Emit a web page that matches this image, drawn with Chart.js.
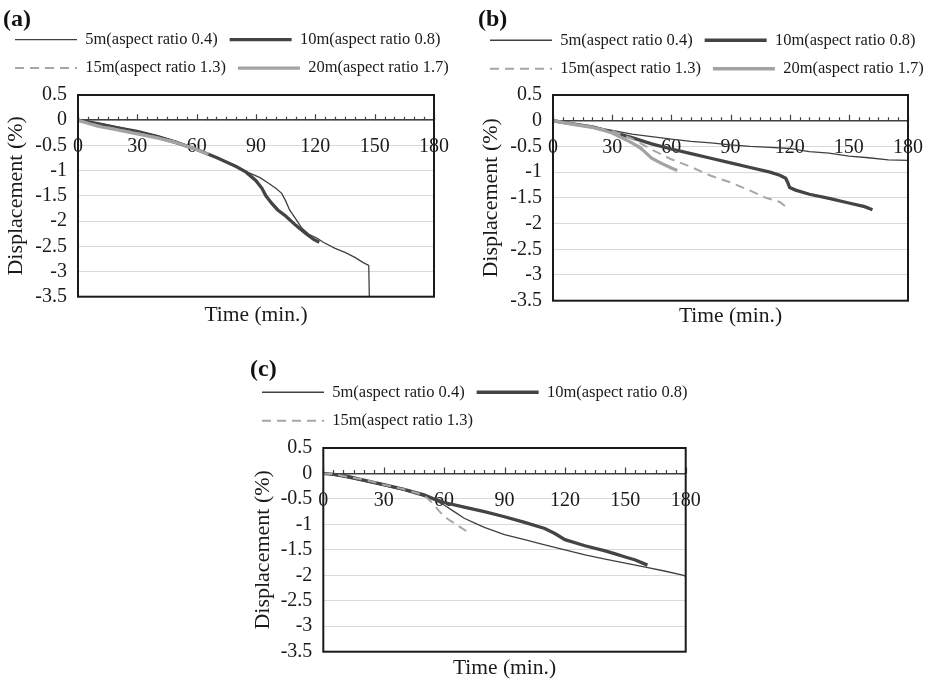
<!DOCTYPE html>
<html>
<head>
<meta charset="utf-8">
<title>Displacement vs time</title>
<script src="https://cdn.jsdelivr.net/npm/chart.js@4.4.1/dist/chart.umd.min.js"></script>
<style>
  body { margin: 0; background: #fff; }
  .wrap { position: relative; width: 938px; height: 682px; }
  canvas { position: absolute; }
</style>
</head>
<body>
<div class="wrap">
  <canvas id="chartA" width="465" height="330" style="left:0;top:0"></canvas>
  <canvas id="chartB" width="468" height="330" style="left:470px;top:0"></canvas>
  <canvas id="chartC" width="500" height="352" style="left:240px;top:330px"></canvas>
</div>
<script>
// series names and axis ticks
const seriesNames = ["5m(aspect ratio 0.4)", "10m(aspect ratio 0.8)", "15m(aspect ratio 1.3)", "20m(aspect ratio 1.7)"]
const xTicks = [0, 30, 60, 90, 120, 150, 180]
const yTicks = [0.5, 0, -0.5, -1, -1.5, -2, -2.5, -3, -3.5]

// (a)  [time (min), displacement (%)]
const a5m = [[0, 0], [10, -0.06], [20, -0.13], [30, -0.2], [40, -0.3], [50, -0.42], [60, -0.57], [70, -0.73], [80, -0.9], [85, -1.02], [88, -1.07], [92, -1.14], [96, -1.24], [100, -1.35], [103, -1.45], [105, -1.6], [107, -1.78], [110, -1.95], [113, -2.13], [117, -2.27], [121, -2.34], [124, -2.42], [130, -2.54], [135, -2.62], [140, -2.72], [144, -2.82], [147, -2.88], [147.3, -3.5]]
const a10m = [[0, 0], [10, -0.07], [20, -0.15], [30, -0.24], [40, -0.33], [50, -0.45], [60, -0.58], [70, -0.74], [80, -0.92], [85, -1.03], [90, -1.2], [93, -1.35], [95, -1.5], [98, -1.65], [101, -1.78], [105, -1.9], [110, -2.08], [115, -2.24], [119, -2.36], [122, -2.42]]
const a15m = [[0, 0], [10, -0.1], [20, -0.18], [30, -0.26], [40, -0.34], [50, -0.44], [58, -0.55]]
const a20m = [[0, 0], [10, -0.12], [20, -0.19], [30, -0.27], [40, -0.35], [50, -0.45], [60, -0.58], [66, -0.68]]

// (b)
const b5m = [[0, 0], [10, -0.06], [20, -0.12], [30, -0.19], [40, -0.26], [50, -0.31], [60, -0.36], [70, -0.4], [80, -0.43], [90, -0.47], [100, -0.5], [110, -0.52], [120, -0.54], [125, -0.57], [130, -0.6], [140, -0.63], [145, -0.66], [150, -0.69], [160, -0.72], [170, -0.76], [180, -0.77]]
const b10m = [[0, 0], [10, -0.06], [20, -0.12], [30, -0.22], [40, -0.33], [50, -0.45], [60, -0.55], [70, -0.64], [80, -0.73], [90, -0.82], [100, -0.91], [110, -1.0], [115, -1.06], [118, -1.12], [119, -1.2], [120, -1.3], [123, -1.35], [130, -1.43], [140, -1.51], [150, -1.6], [158, -1.67], [162, -1.73]]
const b15m = [[0, 0], [10, -0.06], [20, -0.12], [30, -0.2], [40, -0.35], [50, -0.56], [60, -0.75], [70, -0.9], [80, -1.07], [90, -1.2], [100, -1.36], [108, -1.5], [115, -1.58], [120, -1.73]]
const b20m = [[0, 0], [10, -0.07], [20, -0.13], [26, -0.19], [30, -0.24], [36, -0.35], [40, -0.43], [44, -0.52], [47, -0.62], [50, -0.73], [55, -0.83], [60, -0.92], [63, -0.97]]

// (c)
const c5m = [[0, 0], [5, -0.03], [10, -0.07], [20, -0.15], [30, -0.24], [40, -0.33], [50, -0.45], [55, -0.52], [60, -0.62], [65, -0.75], [70, -0.88], [75, -0.97], [80, -1.06], [90, -1.2], [100, -1.3], [110, -1.4], [120, -1.5], [130, -1.6], [140, -1.68], [150, -1.76], [160, -1.84], [170, -1.92], [179, -2.0], [180, -2.03], [180, -2.27]]
const c10m = [[0, 0], [5, -0.02], [10, -0.04], [20, -0.13], [30, -0.22], [40, -0.31], [50, -0.42], [55, -0.5], [60, -0.57], [70, -0.66], [80, -0.75], [90, -0.85], [100, -0.96], [110, -1.08], [115, -1.18], [120, -1.3], [130, -1.42], [140, -1.52], [145, -1.58], [150, -1.64], [155, -1.7], [161, -1.8]]
const c15m = [[0, 0], [5, -0.01], [10, -0.05], [20, -0.12], [30, -0.22], [40, -0.31], [46, -0.38], [50, -0.43], [54, -0.57], [58, -0.76], [62, -0.9], [66, -1.0], [71, -1.13]]

Chart.defaults.font.family = '"Liberation Serif", "Times New Roman", serif'
Chart.defaults.color = "#1a1a1a"

const lineStyles = [
  { borderColor: "#404040", borderWidth: 1.3, borderDash: [], order: 4 },
  { borderColor: "#444444", borderWidth: 3.3, borderDash: [], order: 3 },
  { borderColor: "#a6a6a6", borderWidth: 2, borderDash: [9, 6], order: 2 },
  { borderColor: "#a3a3a3", borderWidth: 3.3, borderDash: [], order: 1 },
]

function toDatasets(seriesList) {
  return seriesList.map((pts, i) => ({
    label: seriesNames[i],
    data: pts.map((p) => ({ x: p[0], y: p[1] })),
    borderColor: lineStyles[i].borderColor,
    backgroundColor: lineStyles[i].borderColor,
    borderWidth: lineStyles[i].borderWidth,
    borderDash: lineStyles[i].borderDash,
    order: lineStyles[i].order,
    pointRadius: 0,
    tension: 0,
    xAxisID: "x",
    yAxisID: "y",
  }))
}

// tick marks on the zero line and the plot frame
const framePlugin = {
  id: "frame",
  afterDatasetsDraw(chart) {
    const { ctx, chartArea: a, scales } = chart
    const y0 = scales.y.getPixelForValue(0)
    ctx.save()
    ctx.strokeStyle = "#404040"
    ctx.lineWidth = 1.2
    ctx.beginPath()
    for (let t = 0; t <= 180; t += 5) {
      const px = Math.round(scales.x.getPixelForValue(t)) + 0.5
      const len = t % 30 === 0 ? 6 : 3.5
      ctx.moveTo(px, y0)
      ctx.lineTo(px, y0 - len)
    }
    ctx.stroke()
    ctx.strokeStyle = "#1a1a1a"
    ctx.lineWidth = 2
    ctx.strokeRect(a.left, a.top, a.right - a.left, a.bottom - a.top)
    ctx.restore()
  },
}

function spacer(pos, size) {
  return {
    type: "linear",
    position: pos,
    grid: { display: false },
    border: { display: false },
    ticks: { display: false },
    afterFit: (s) => {
      if (pos === "right") s.width = size
      else s.height = size
    },
  }
}

function makePanel(id, label, seriesList, g) {
  const bottom = spacer("bottom", g.bottomGap)
  bottom.title = { display: true, text: "Time (min.)", font: { size: 21.5 }, padding: { top: 0, bottom: g.timePad } }

  return new Chart(document.getElementById(id), {
    type: "line",
    data: { datasets: toDatasets(seriesList) },
    options: {
      responsive: false,
      animation: false,
      layout: { padding: { left: g.padLeft, top: 0, right: 0, bottom: 0 } },
      plugins: {
        title: {
          display: true,
          text: label,
          align: "start",
          color: "#111",
          font: { size: 24, weight: "bold", lineHeight: 1 },
          padding: { top: g.titleTop, bottom: g.titleBottom },
        },
        legend: {
          position: "top",
          align: "start",
          labels: {
            usePointStyle: true,
            pointStyle: "line",
            pointStyleWidth: 62,
            padding: 12,
            font: { size: 16.5 },
            sort: (p, q) => p.datasetIndex - q.datasetIndex,
            generateLabels: (chart) =>
              Chart.defaults.plugins.legend.labels.generateLabels(chart).map((item) => {
                const ds = chart.data.datasets[item.datasetIndex]
                return Object.assign(item, { lineWidth: ds.borderWidth, lineDash: ds.borderDash, strokeStyle: ds.borderColor })
              }),
          },
        },
        tooltip: { enabled: false },
      },
      scales: {
        x: {
          type: "linear",
          min: 0,
          max: 180,
          position: { y: 0 },
          afterBuildTicks: (s) => {
            s.ticks = xTicks.map((v) => ({ value: v }))
          },
          grid: { drawOnChartArea: false, drawTicks: false },
          border: { color: "#404040", width: 1.5 },
          ticks: { font: { size: 20 }, padding: 15, maxRotation: 0, autoSkip: false, callback: (v) => String(v) },
        },
        y: {
          type: "linear",
          min: -3.5,
          max: 0.5,
          position: "left",
          afterBuildTicks: (s) => {
            s.ticks = yTicks.map((v) => ({ value: v }))
          },
          afterFit: (s) => {
            s.width = g.yWidth
          },
          grid: { color: "#d9d9d9", lineWidth: 1, drawTicks: false },
          border: { display: false },
          ticks: { font: { size: 20 }, padding: 11, autoSkip: false, callback: (v) => String(v) },
          title: { display: true, text: "Displacement (%)", font: { size: 22 }, padding: { top: 0, bottom: 0 } },
        },
        xTop: spacer("top", g.topGap),
        xBottom: bottom,
        yRight: spacer("right", g.rightGap),
      },
    },
    plugins: [framePlugin],
  })
}

makePanel("chartA", "(a)", [a5m, a10m, a15m, a20m], {
  padLeft: 3, titleTop: 7.5, titleBottom: -12.2, topGap: 8.7, yWidth: 75, rightGap: 31, bottomGap: 33.3, timePad: 1.4,
})
makePanel("chartB", "(b)", [b5m, b10m, b15m, b20m], {
  padLeft: 8, titleTop: 7.5, titleBottom: -11.5, topGap: 8, yWidth: 75, rightGap: 20.5, bottomGap: 29.3, timePad: 0.4,
})
makePanel("chartC", "(c)", [c5m, c10m, c15m], {
  padLeft: 10, titleTop: 28, titleBottom: -10, topGap: 9, yWidth: 73.3, rightGap: 54.3, bottomGap: 30.3, timePad: 0.4,
})
</script>
</body>
</html>
